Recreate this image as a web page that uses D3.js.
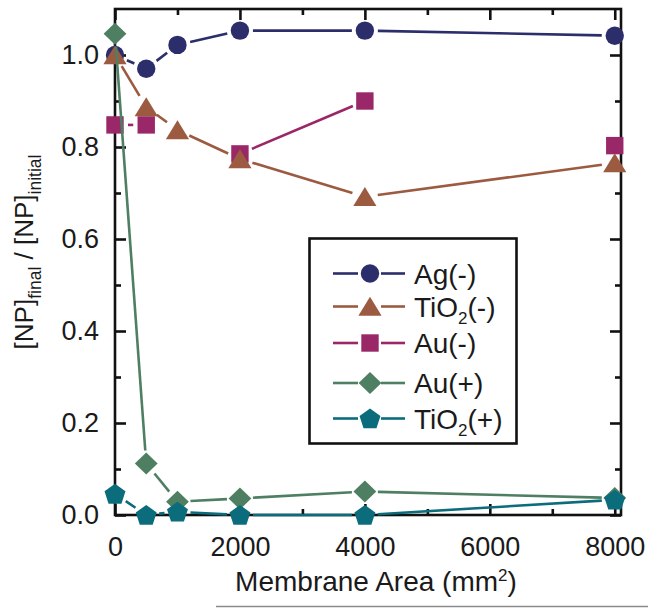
<!DOCTYPE html>
<html>
<head>
<meta charset="utf-8">
<script src="https://cdn.jsdelivr.net/npm/d3@7"></script>
<style>
  html, body { margin: 0; padding: 0; background: #fff; }
  svg { display: block; font-family: "Liberation Sans", Arial, Helvetica, sans-serif; }
</style>
</head>
<body>
<svg id="chart" width="648" height="609"></svg>
<script>
// ---- data ----
const areas = [0, 500, 1000, 2000, 4000, 8000];
const agMinus = [1.00, 0.970, 1.022, 1.053, 1.053, 1.042];
const tio2Minus = [1.00, 0.887, 0.837, 0.774, 0.692, 0.765];
const auMinusAreas = [0, 500, 1000, 2000, 4000, 6000, 8000];
const auMinus = [0.848, 0.848, null, 0.785, 0.900, null, 0.803];
const auPlus = [1.046, 0.112, 0.029, 0.036, 0.051, 0.037];
const tio2Plus = [0.046, 0.000, 0.007, 0.000, 0.000, 0.033];

const seriesNames = ["Ag(-)", "TiO2(-)", "Au(-)", "Au(+)", "TiO2(+)"];
const seriesColors = ["#2c2e6c", "#9c5a40", "#9a2767", "#4f7f62", "#0b6c7c"];
const seriesShapes = ["circle", "triangle", "square", "diamond", "pentagon"];

const xMajorTicks = [0, 2000, 4000, 6000, 8000];
const xMinorTicks = [1000, 3000, 5000, 7000];
const yMajorTicks = [0.0, 0.2, 0.4, 0.6, 0.8, 1.0];
const yMinorTicks = [0.1, 0.3, 0.5, 0.7, 0.9];

const xTitle = "Membrane Area (mm";
const yTitleParts = ["[NP]", "final", " / [NP]", "initial"];

// ---- layout ----
const svg = d3.select("#chart");
const L = 115, R = 621, T = 9, B = 515;
const x = d3.scaleLinear().domain([0, 8100]).range([L, R]);
const y = d3.scaleLinear().domain([0, 1.1]).range([B, T]);

// background artifact line at the bottom of the reference
svg.append("line").attr("x1", 216).attr("x2", 648).attr("y1", 606.5).attr("y2", 606.5)
  .attr("stroke", "#8a8a8a").attr("stroke-width", 1.5);

// frame
svg.append("rect").attr("x", L).attr("y", T).attr("width", R - L).attr("height", B - T)
  .attr("fill", "none").attr("stroke", "#111").attr("stroke-width", 2.6);

// axes (ticks pointing inward)
const axisStyle = g => {
  g.select(".domain").remove();
  g.selectAll(".tick line").attr("stroke", "#111").attr("stroke-width", 2.6);
  g.selectAll("text").attr("fill", "#1a1a1a").attr("font-size", 27)
    .attr("font-family", "'Liberation Sans', Arial, sans-serif");
};
svg.append("g").attr("transform", `translate(0,${B})`)
  .call(d3.axisBottom(x).tickValues(xMajorTicks).tickSize(-11).tickPadding(22).tickFormat(d3.format("d")))
  .call(axisStyle);
svg.append("g").attr("transform", `translate(0,${B})`)
  .call(d3.axisBottom(x).tickValues(xMinorTicks).tickSize(-6).tickFormat(""))
  .call(axisStyle);
svg.append("g").attr("transform", `translate(0,${T})`)
  .call(d3.axisTop(x).tickValues(xMajorTicks).tickSize(-11).tickFormat(""))
  .call(axisStyle);
svg.append("g").attr("transform", `translate(0,${T})`)
  .call(d3.axisTop(x).tickValues(xMinorTicks).tickSize(-6).tickFormat(""))
  .call(axisStyle);
svg.append("g").attr("transform", `translate(${L},0)`)
  .call(d3.axisLeft(y).tickValues(yMajorTicks).tickSize(-11).tickPadding(16).tickFormat(d3.format(".1f")))
  .call(axisStyle);
svg.append("g").attr("transform", `translate(${L},0)`)
  .call(d3.axisLeft(y).tickValues(yMinorTicks).tickSize(-6).tickFormat(""))
  .call(axisStyle);
svg.append("g").attr("transform", `translate(${R},0)`)
  .call(d3.axisRight(y).tickValues(yMajorTicks).tickSize(-11).tickFormat(""))
  .call(axisStyle);
svg.append("g").attr("transform", `translate(${R},0)`)
  .call(d3.axisRight(y).tickValues(yMinorTicks).tickSize(-6).tickFormat(""))
  .call(axisStyle);

// axis titles
const xt = svg.append("text").attr("x", 376).attr("y", 591).attr("text-anchor", "middle")
  .attr("font-size", 28).attr("fill", "#1a1a1a");
xt.append("tspan").text(xTitle);
xt.append("tspan").attr("font-size", 17).attr("dy", -10).text("2");
xt.append("tspan").attr("dy", 10).text(")");

const yt = svg.append("text").attr("transform", "translate(33,252) rotate(-90)")
  .attr("text-anchor", "middle").attr("font-size", 26).attr("fill", "#1a1a1a");
yt.append("tspan").text(yTitleParts[0]);
yt.append("tspan").attr("font-size", 17.5).attr("dy", 8).text(yTitleParts[1]);
yt.append("tspan").attr("dy", -8).attr("xml:space", "preserve").text(yTitleParts[2]);
yt.append("tspan").attr("font-size", 17.5).attr("dy", 8).text(yTitleParts[3]);

// marker generator
function markerPath(shape) {
  switch (shape) {
    case "circle": return d3.symbol(d3.symbolCircle, Math.PI * 9.2 * 9.2)();
    case "square": return "M-8.7,-8.7H8.7V8.7H-8.7Z";
    case "triangle": return "M0,-9.8L11.6,9.2L-11.6,9.2Z";
    case "diamond": return "M0,-11L11.4,0L0,11L-11.4,0Z";
    case "pentagon": {
      const r = 11;
      return d3.range(5).map((i, k) => {
        const a = -Math.PI / 2 + i * 2 * Math.PI / 5;
        return (k ? "L" : "M") + (r * Math.cos(a)).toFixed(2) + "," + (r * Math.sin(a) + 0.9).toFixed(2);
      }).join("") + "Z";
    }
  }
}

const gap = 13;
function drawSeries(xv, yv, color, shape) {
  const g = svg.append("g");
  const pts = xv.map((a, i) => yv[i] == null ? null : [x(a), y(yv[i])]);
  for (let i = 0; i < pts.length - 1; i++) {
    const p = pts[i], q = pts[i + 1];
    if (!p || !q) continue;
    const dx = q[0] - p[0], dy = q[1] - p[1];
    const len = Math.hypot(dx, dy);
    if (len <= 2 * gap) continue;
    const ux = dx / len, uy = dy / len;
    g.append("line")
      .attr("x1", p[0] + ux * gap).attr("y1", p[1] + uy * gap)
      .attr("x2", q[0] - ux * gap).attr("y2", q[1] - uy * gap)
      .attr("stroke", color).attr("stroke-width", 2.6);
  }
  g.selectAll("path.m").data(pts.filter(p => p)).join("path").attr("class", "m")
    .attr("transform", p => `translate(${p[0]},${p[1]})`)
    .attr("d", markerPath(shape)).attr("fill", color);
}

drawSeries(areas, agMinus, seriesColors[0], seriesShapes[0]);
drawSeries(auMinusAreas, auMinus, seriesColors[2], seriesShapes[2]);
drawSeries(areas, tio2Minus, seriesColors[1], seriesShapes[1]);
drawSeries(areas, auPlus, seriesColors[3], seriesShapes[3]);
drawSeries(areas, tio2Plus, seriesColors[4], seriesShapes[4]);

// legend
const lg = svg.append("g");
lg.append("rect").attr("x", 309.5).attr("y", 238.5).attr("width", 207).attr("height", 205)
  .attr("fill", "#fff").attr("stroke", "#111").attr("stroke-width", 2.6);
const rowY = [273.5, 306.5, 343, 383, 418.5];
seriesNames.forEach((name, i) => {
  const cy = rowY[i];
  lg.append("line").attr("x1", 333).attr("x2", 358).attr("y1", cy).attr("y2", cy)
    .attr("stroke", seriesColors[i]).attr("stroke-width", 2.6);
  lg.append("line").attr("x1", 381).attr("x2", 405).attr("y1", cy).attr("y2", cy)
    .attr("stroke", seriesColors[i]).attr("stroke-width", 2.6);
  lg.append("path").attr("transform", `translate(370,${cy})`).attr("d", markerPath(seriesShapes[i]))
    .attr("fill", seriesColors[i]);
  const t = lg.append("text").attr("x", 414).attr("y", cy + 10).attr("font-size", 28).attr("fill", "#1a1a1a");
  const m = name.match(/^(TiO)2(.*)$/);
  if (m) {
    t.append("tspan").text(m[1]);
    t.append("tspan").attr("font-size", 17).attr("dy", 7).text("2");
    t.append("tspan").attr("dy", -7).text(m[2]);
  } else {
    t.text(name);
  }
});
</script>
</body>
</html>
